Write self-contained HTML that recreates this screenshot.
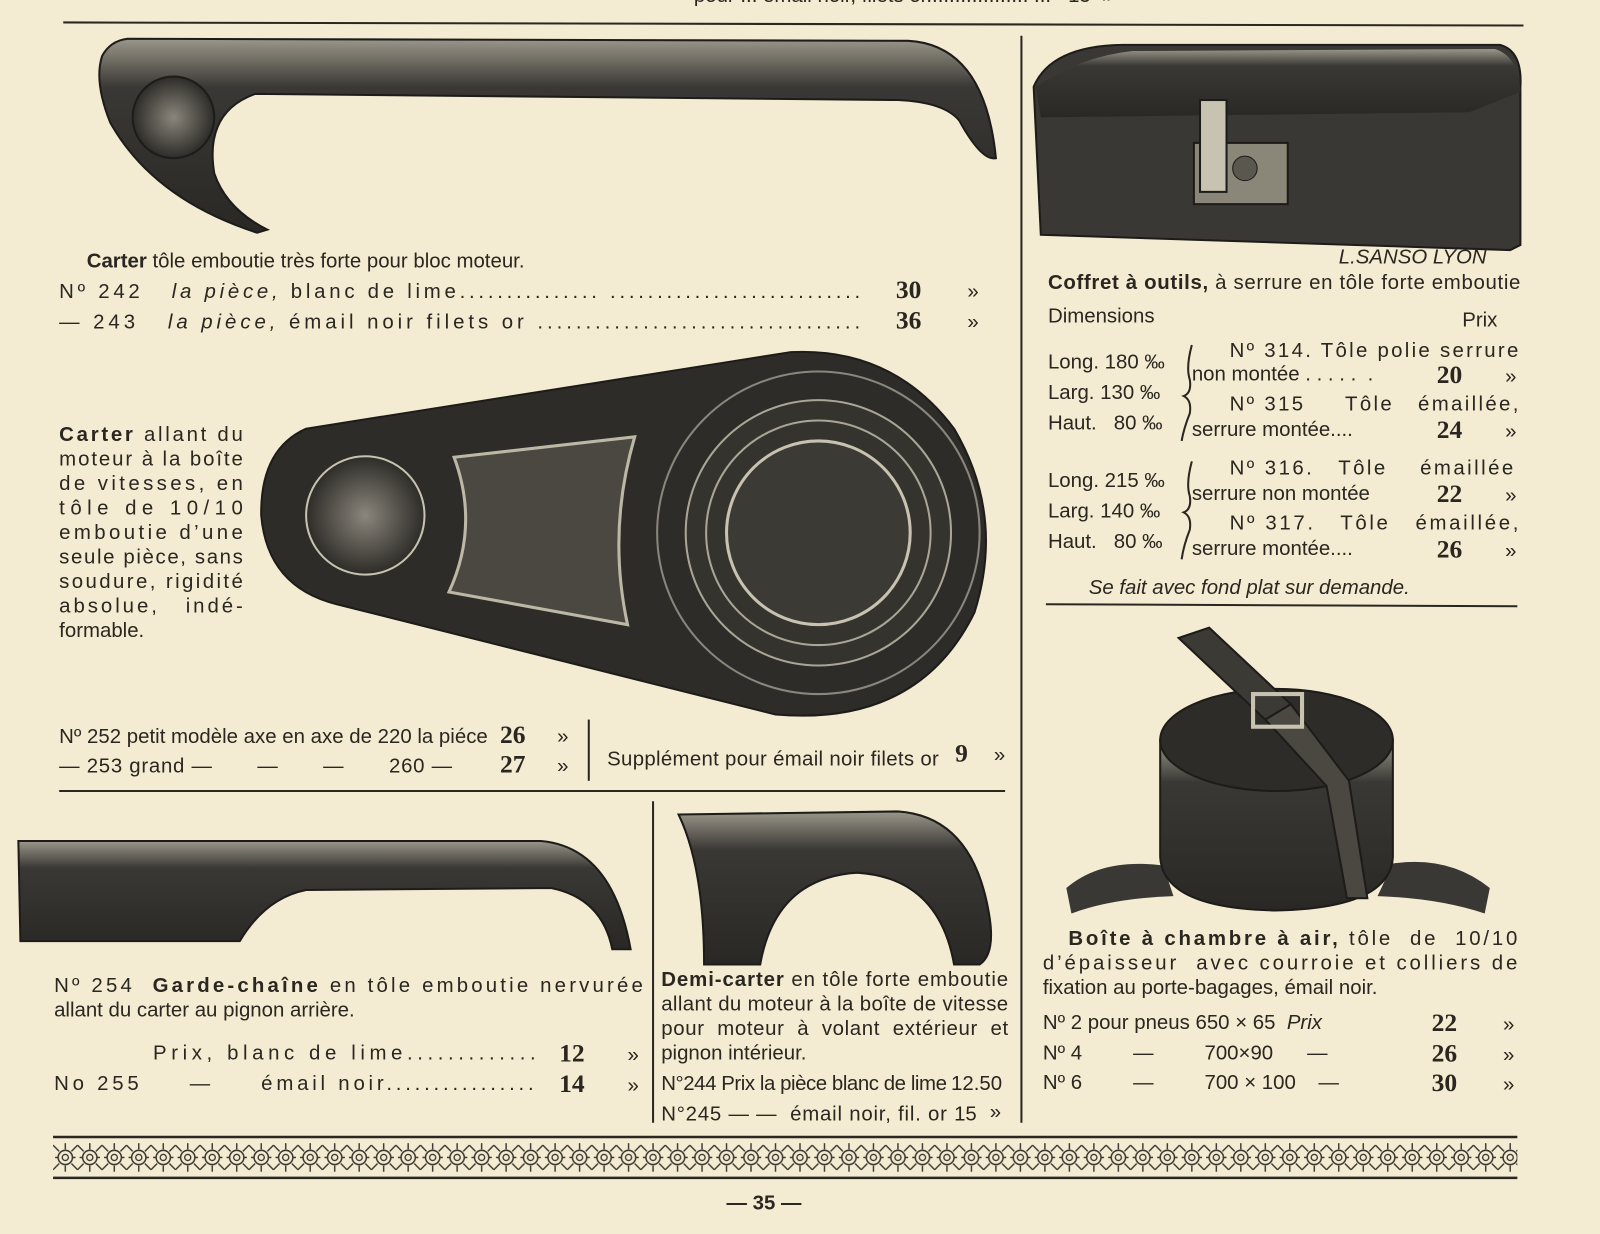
<!DOCTYPE html>
<html><head><meta charset="utf-8"><style>
html,body{margin:0;padding:0;background:#f4ecd2;}
svg{display:block;}
text{font-family:"Liberation Sans",sans-serif;fill:#2a2620;font-size:20px;white-space:pre;}
.n{font-family:"Liberation Sans Narrow","Liberation Sans",sans-serif;}
.b{font-weight:bold;}
.bp{font-weight:bold;font-size:25px;font-family:"Liberation Serif",serif;}
.i{font-style:italic;}
</style></head><body>
<svg width="1600" height="1234" viewBox="0 0 1568 1209" preserveAspectRatio="none" xmlns="http://www.w3.org/2000/svg" xml:space="preserve">
<defs>
<linearGradient id="g1" x1="0" y1="0" x2="0" y2="1"><stop offset="0" stop-color="#9a968a"/><stop offset="0.25" stop-color="#3a3834"/><stop offset="1" stop-color="#2a2825"/></linearGradient>
<radialGradient id="rg" cx="0.5" cy="0.5" r="0.5"><stop offset="0" stop-color="#8a867c"/><stop offset="1" stop-color="#2e2c28"/></radialGradient>
<pattern id="orn" x="52" y="1116" width="24" height="36" patternUnits="userSpaceOnUse">
<circle cx="12" cy="18" r="7" fill="none" stroke="#3a3630" stroke-width="1.5"/><circle cx="12" cy="18" r="3" fill="none" stroke="#3a3630" stroke-width="1.3"/>
<path d="M0,6 L6,12 M24,6 L18,12 M0,30 L6,24 M24,30 L18,24 M12,4 V10 M12,26 V32 M2,18 H5 M19,18 H22" stroke="#3a3630" stroke-width="1.4"/>
</pattern>
</defs>
<rect width="1568" height="1209" fill="#f4ecd2"/>

<text x="680" y="2" font-size="20">pour ... email noir, filets or.................. ...   15  »</text>
<line x1="62" y1="22" x2="1493" y2="25" stroke="#2a2620" stroke-width="2"/>
<line x1="1001" y1="35" x2="1001" y2="1100" stroke="#2a2620" stroke-width="2"/>

<!-- Carter 1 -->
<path d="M125,38 L890,40 Q965,44 976,155 Q962,158 940,118 Q925,100 880,98 L250,92 Q200,110 210,170 Q222,205 262,225 L252,228 Q150,195 108,120 Q92,80 100,55 Q108,40 125,38 Z" fill="url(#g1)" stroke="#1e1c1a" stroke-width="2"/>
<circle cx="170" cy="115" r="40" fill="url(#rg)" stroke="#1e1c1a" stroke-width="2"/>
<text x="85" y="262"><tspan class="b">Carter</tspan> tôle emboutie très forte pour bloc moteur.</text>
<text x="58" y="292" textLength="785">Nº 242   <tspan class="i">la pièce,</tspan> blanc de lime............... ...........................</text>
<text x="58" y="322" textLength="785">— 243   <tspan class="i">la pièce,</tspan> émail noir filets or ..................................</text>
<text x="878" y="292" class="bp">30</text><text x="948" y="292">»</text>
<text x="878" y="322" class="bp">36</text><text x="948" y="322">»</text>

<!-- Carter 2 -->
<path d="M300,420 Q255,440 256,505 Q262,575 330,592 L760,700 Q900,712 955,600 Q985,505 935,420 Q875,340 775,345 Z" fill="#2e2c28" stroke="#1e1c1a" stroke-width="2"/>
<circle cx="358" cy="505" r="58" fill="url(#rg)" stroke="#c8c2b0" stroke-width="2"/>
<path d="M445,448 L622,428 Q595,520 615,612 L440,580 Q470,515 445,448 Z" fill="#4a4840" stroke="#bdb7a5" stroke-width="3"/>
<circle cx="802" cy="522" r="158" fill="none" stroke="#8a867c" stroke-width="2"/>
<circle cx="802" cy="522" r="130" fill="#35332e" stroke="#aaa596" stroke-width="2"/>
<circle cx="802" cy="522" r="110" fill="none" stroke="#aaa596" stroke-width="2"/>
<circle cx="802" cy="522" r="90" fill="#3c3a35" stroke="#c8c2b0" stroke-width="3"/>
<g font-size="21">
<text x="58" y="432" textLength="180"><tspan class="b">Carter</tspan> allant du</text>
<text x="58" y="456" textLength="180">moteur à la boîte</text>
<text x="58" y="480" textLength="180">de vitesses, en</text>
<text x="58" y="504" textLength="180">tôle de 10/10</text>
<text x="58" y="528" textLength="180">emboutie d’une</text>
<text x="58" y="552" textLength="180">seule pièce, sans</text>
<text x="58" y="576" textLength="180">soudure, rigidité</text>
<text x="58" y="600" textLength="180">absolue,   indé-</text>
<text x="58" y="624">formable.</text>
</g>
<text x="58" y="728" class="n" font-size="20" textLength="420">Nº 252 petit modèle axe en axe de 220 la piéce</text>
<text x="58" y="757" class="n" font-size="20" textLength="385">— 253 grand —       —       —       260 —</text>
<text x="490" y="728" class="bp">26</text><text x="546" y="728">»</text>
<text x="490" y="757" class="bp">27</text><text x="546" y="757">»</text>
<line x1="577" y1="705" x2="577" y2="765" stroke="#2a2620" stroke-width="2"/>
<text x="595" y="750" class="n" font-size="20" textLength="325">Supplément pour émail noir filets or</text>
<text x="936" y="746" class="bp">9</text><text x="974" y="746">»</text>
<line x1="58" y1="775" x2="985" y2="775" stroke="#2a2620" stroke-width="2"/>

<!-- garde-chaine -->
<path d="M18,824 L530,824 Q600,830 618,930 L600,930 Q590,880 540,870 L300,872 Q260,880 235,922 L20,922 Z" fill="url(#g1)" stroke="#1e1c1a" stroke-width="2"/>
<line x1="640" y1="785" x2="640" y2="1100" stroke="#2a2620" stroke-width="2"/>
<text x="53" y="972" textLength="577">Nº 254  <tspan class="b">Garde-chaîne</tspan> en tôle emboutie nervurée</text>
<text x="53" y="996">allant du carter au pignon arrière.</text>
<text x="150" y="1038" textLength="375">Prix, blanc de lime.............</text>
<text x="53" y="1068" textLength="470">No 255     —     émail noir................</text>
<text x="548" y="1040" class="bp">12</text><text x="615" y="1040">»</text>
<text x="548" y="1070" class="bp">14</text><text x="615" y="1070">»</text>

<!-- demi-carter -->
<path d="M665,798 L880,795 Q955,800 970,900 Q975,935 960,945 L935,945 Q920,860 840,855 Q760,860 745,945 L690,945 Q690,850 665,798 Z" fill="url(#g1)" stroke="#1e1c1a" stroke-width="2"/>
<g class="n" font-size="19">
<text x="648" y="966" textLength="340"><tspan class="b">Demi-carter</tspan> en tôle forte emboutie</text>
<text x="648" y="990" textLength="340">allant du moteur à la boîte de vitesse</text>
<text x="648" y="1014" textLength="340">pour  moteur  à  volant  extérieur  et</text>
<text x="648" y="1038">pignon intérieur.</text>
<text x="648" y="1068" textLength="280">N°244 Prix la pièce blanc de lime</text>
<text x="648" y="1098" textLength="280">N°245 — —  émail noir, fil. or</text>
</g>
<text x="932" y="1068" font-size="24" class="n">12.50</text>
<text x="935" y="1098" font-size="24" class="n">15</text><text x="970" y="1096">»</text>

<!-- coffret -->
<path d="M1013,85 Q1030,45 1100,44 L1470,44 Q1492,50 1490,85 L1490,240 L1480,245 L1020,230 Z" fill="#3a3834" stroke="#1e1c1a" stroke-width="2"/>
<path d="M1015,85 Q1060,55 1110,50 L1465,48 Q1488,55 1490,90 L1440,110 L1020,115 Z" fill="url(#g1)"/>
<rect x="1170" y="140" width="92" height="60" fill="#8a8678" stroke="#1e1c1a" stroke-width="2"/>
<rect x="1176" y="98" width="26" height="90" fill="#c8c2b0" stroke="#1e1c1a" stroke-width="2"/>
<circle cx="1220" cy="165" r="12" fill="#5a574f" stroke="#1e1c1a"/>
<text x="1312" y="258" font-size="10" class="i">L.SANSO LYON</text>
<text x="1027" y="283" class="b n" font-size="20" textLength="463">Coffret à outils, <tspan font-weight="normal">à serrure en tôle forte emboutie</tspan></text>
<text x="1027" y="316">Dimensions</text><text x="1433" y="320">Prix</text>
<g class="n" font-size="19">
<text x="1027" y="361">Long. 180 ‰</text><text x="1027" y="391">Larg. 130 ‰</text><text x="1027" y="421">Haut.   80 ‰</text>
<text x="1027" y="477">Long. 215 ‰</text><text x="1027" y="507">Larg. 140 ‰</text><text x="1027" y="537">Haut.   80 ‰</text>
</g>
<path d="M1168,338 Q1162,360 1166,372 Q1168,385 1160,388 Q1168,392 1166,405 Q1160,420 1158,432" fill="none" stroke="#2a2620" stroke-width="2"/>
<path d="M1168,452 Q1162,474 1166,486 Q1168,499 1160,502 Q1168,506 1166,519 Q1160,534 1158,548" fill="none" stroke="#2a2620" stroke-width="2"/>
<text x="1205" y="350" textLength="283">Nº 314. Tôle polie serrure</text>
<text x="1168" y="373">non montée . . . . .  .</text>
<text x="1205" y="402" textLength="283">Nº 315     Tôle   émaillée,</text>
<text x="1168" y="427">serrure montée....</text>
<text x="1205" y="465" textLength="278">Nº 316.   Tôle    émaillée</text>
<text x="1168" y="490">serrure non montée</text>
<text x="1205" y="519" textLength="283">Nº 317.   Tôle   émaillée,</text>
<text x="1168" y="544">serrure montée....</text>
<text x="1408" y="375" class="bp">20</text><text x="1475" y="375">»</text>
<text x="1408" y="429" class="bp">24</text><text x="1475" y="429">»</text>
<text x="1408" y="492" class="bp">22</text><text x="1475" y="492">»</text>
<text x="1408" y="546" class="bp">26</text><text x="1475" y="546">»</text>
<text x="1067" y="582" class="i">Se fait avec fond plat sur demande.</text>
<line x1="1025" y1="592" x2="1487" y2="594" stroke="#2a2620" stroke-width="2"/>

<!-- boite a chambre -->
<path d="M1045,870 Q1080,840 1140,848 L1150,878 Q1090,880 1050,895 Z" fill="#3a3834"/>
<path d="M1460,870 Q1420,838 1365,846 L1350,878 Q1410,880 1455,895 Z" fill="#3a3834"/>
<path d="M1137,725 L1137,840 Q1140,890 1250,892 Q1362,890 1365,840 L1365,725 Z" fill="url(#g1)" stroke="#1e1c1a" stroke-width="2"/>
<ellipse cx="1251" cy="725" rx="114" ry="50" fill="#2e2c28" stroke="#1e1c1a" stroke-width="2"/>
<path d="M1155,625 L1185,615 L1265,690 L1240,705 Z" fill="#3c3a35" stroke="#1e1c1a" stroke-width="2"/>
<path d="M1240,705 L1300,770 L1320,880 L1340,880 L1322,765 L1265,690 Z" fill="#4a4840" stroke="#1e1c1a" stroke-width="2"/>
<rect x="1228" y="680" width="48" height="32" fill="none" stroke="#c8c2b0" stroke-width="4"/>
<text x="1047" y="926" class="b" textLength="440">Boîte à chambre à air, <tspan font-weight="normal">tôle  de  10/10</tspan></text>
<text x="1022" y="950" textLength="465">d’épaisseur  avec courroie et colliers de</text>
<text x="1022" y="974">fixation au porte-bagages, émail noir.</text>
<text x="1022" y="1008">Nº 2 pour pneus 650 × 65  <tspan class="i">Prix</tspan></text>
<text x="1022" y="1038">Nº 4         —         700×90      —</text>
<text x="1022" y="1067">Nº 6         —         700 × 100    —</text>
<text x="1403" y="1010" class="bp">22</text><text x="1473" y="1010">»</text>
<text x="1403" y="1040" class="bp">26</text><text x="1473" y="1040">»</text>
<text x="1403" y="1069" class="bp">30</text><text x="1473" y="1069">»</text>

<line x1="52" y1="1114" x2="1487" y2="1114" stroke="#2a2620" stroke-width="2.5"/>
<rect x="52" y="1116" width="1435" height="36" fill="url(#orn)"/>
<line x1="52" y1="1154" x2="1487" y2="1154" stroke="#2a2620" stroke-width="2.5"/>
<text x="712" y="1185" class="b" font-size="24">— 35 —</text>
</svg>
</body></html>
